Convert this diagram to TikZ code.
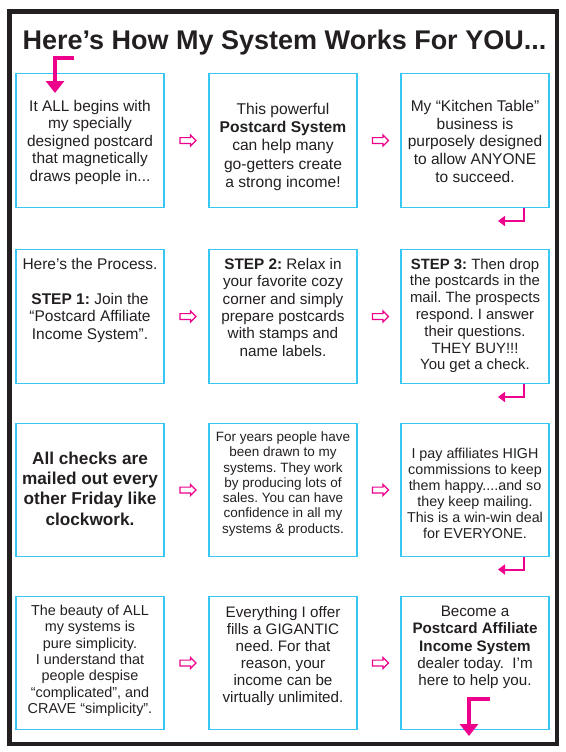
\documentclass[tikz,border=0pt]{standalone}
\usepackage{fontspec}
\setmainfont{Liberation Sans}
\usetikzlibrary{shapes.arrows,arrows.meta,calc}
\definecolor{pinkarr}{RGB}{236,0,140}
\definecolor{boxblue}{RGB}{56,198,244}
\definecolor{ink}{RGB}{35,31,32}
\begin{document}
\frenchspacing
\begin{tikzpicture}[x=1pt,y=-1pt,
  frame/.style={draw=ink, line width=4.5pt},
  titletext/.style={anchor=base, inner sep=0pt, text=ink, font={\fontsize{27}{30}\selectfont\bfseries}},
  box/.style={draw=boxblue, line width=1.3pt, minimum width=148pt, minimum height=133.5pt, inner sep=0pt},
  txt/.style={anchor=north, align=center, inner sep=0pt, text=ink},
  fs/.style 2 args={font={\fontsize{#1}{#2}\selectfont\frenchspacing}},
  harr/.style={single arrow, draw=pinkarr, fill=white, line width=1.2pt, minimum height=16pt, single arrow head extend=2.5pt, inner sep=2.3pt},
  carr/.style={draw=pinkarr, line width=2pt, line join=miter, -{Triangle[length=7pt,width=10pt]}},
  sarr/.style={draw=pinkarr, line width=4pt, line join=miter, -{Triangle[length=12pt,width=18pt]}}
]
\useasboundingbox (0,0) rectangle (565,752);
\draw[frame] (9.5,11.5) rectangle (557,744);
\node[titletext] (title) at (284.5,49) {Here’s How My System Works For YOU...};

% boxes
\node[box] (b11) at (90,140.5) {};
\node[box] (b12) at (283,140.5) {};
\node[box] (b13) at (475,140.5) {};
\node[box] (b21) at (90,316.5) {};
\node[box] (b22) at (283,316.5) {};
\node[box] (b23) at (475,316.5) {};
\node[box] (b31) at (90,490) {};
\node[box] (b32) at (283,490) {};
\node[box] (b33) at (475,490) {};
\node[box] (b41) at (90,663) {};
\node[box] (b42) at (283,663) {};
\node[box] (b43) at (475,663) {};

% texts
\node[txt,fs={15.4}{17.5}] (t11) at (90,99.8) {It ALL begins with\\my specially\\designed postcard\\that magnetically\\draws people in...};
\node[txt,fs={15.6}{18.2}] (t12) at (283,103) {This powerful\\\textbf{Postcard System}\\can help many\\go-getters create\\a strong income!};
\node[txt,fs={15.5}{17.7}] (t13) at (475,100) {My “Kitchen Table”\\business is\\purposely designed\\to allow ANYONE\\to succeed.};
\node[txt,fs={15.5}{17.5}] (t21) at (90,258) {Here’s the Process.\\[17.5pt]\textbf{STEP 1:} Join the\\“Postcard Affiliate\\Income System”.};
\node[txt,fs={15.3}{17.4}] (t22) at (283,258) {\textbf{STEP 2:} Relax in\\your favorite cozy\\corner and simply\\prepare postcards\\with stamps and\\name labels.};
\node[txt,fs={14.9}{16.8}] (t23) at (475,258) {\textbf{STEP 3:} Then drop\\the postcards in the\\mail. The prospects\\respond. I answer\\their questions.\\THEY BUY!!!\\You get a check.};
\node[txt,font={\fontsize{17.2}{20.3}\selectfont\bfseries\frenchspacing}] (t31) at (90,451.5) {All checks are\\mailed out every\\other Friday like\\clockwork.};
\node[txt,fs={13.5}{15.3}] (t32) at (283,431.5) {For years people have\\been drawn to my\\systems. They work\\by producing lots of\\sales. You can have\\confidence in all my\\systems \& products.};
\node[txt,fs={14.3}{16}] (t33) at (475,448) {I pay affiliates HIGH\\commissions to keep\\them happy....and so\\they keep mailing.\\This is a win-win deal\\for EVERYONE.};
\node[txt,fs={14.4}{16.3}] (t41) at (90,605) {The beauty of ALL\\my systems is\\pure simplicity.\\I understand that\\people despise\\“complicated”, and\\CRAVE “simplicity”.};
\node[txt,fs={15.2}{17.1}] (t42) at (283,606) {Everything I offer\\fills a GIGANTIC\\need. For that\\reason, your\\income can be\\virtually unlimited.};
\node[txt,fs={15.2}{17.2}] (t43) at (475,606) {Become a\\\textbf{Postcard Affiliate}\\\textbf{Income System}\\dealer today.\ \ I’m\\here to help you.};

% hollow arrows between boxes
\node[harr] (h11) at ($(b11.east)!0.5!(b12.west)$) {};
\node[harr] (h12) at ($(b12.east)!0.5!(b13.west)$) {};
\node[harr] (h21) at ($(b21.east)!0.5!(b22.west)$) {};
\node[harr] (h22) at ($(b22.east)!0.5!(b23.west)$) {};
\node[harr] (h31) at ($(b31.east)!0.5!(b32.west)$) {};
\node[harr] (h32) at ($(b32.east)!0.5!(b33.west)$) {};
\node[harr] (h41) at ($(b41.east)!0.5!(b42.west)$) {};
\node[harr] (h42) at ($(b42.east)!0.5!(b43.west)$) {};

% corner arrows
\coordinate (e1) at (498,221);
\coordinate (e2) at (498,397);
\coordinate (e3) at (498,569.5);
\draw[carr] ([xshift=-26pt]b13.south east) |- (e1);
\draw[carr] ([xshift=-26pt]b23.south east) |- (e2);
\draw[carr] ([xshift=-26pt]b33.south east) |- (e3);

% start and end arrows
\coordinate (s0) at (74,58);
\coordinate (s1) at (55,93);
\draw[sarr] (s0) -| (s1);
\coordinate (f0) at (490,698.5);
\coordinate (f1) at (469,736);
\draw[sarr] (f0) -| (f1);
\end{tikzpicture}
\end{document}
